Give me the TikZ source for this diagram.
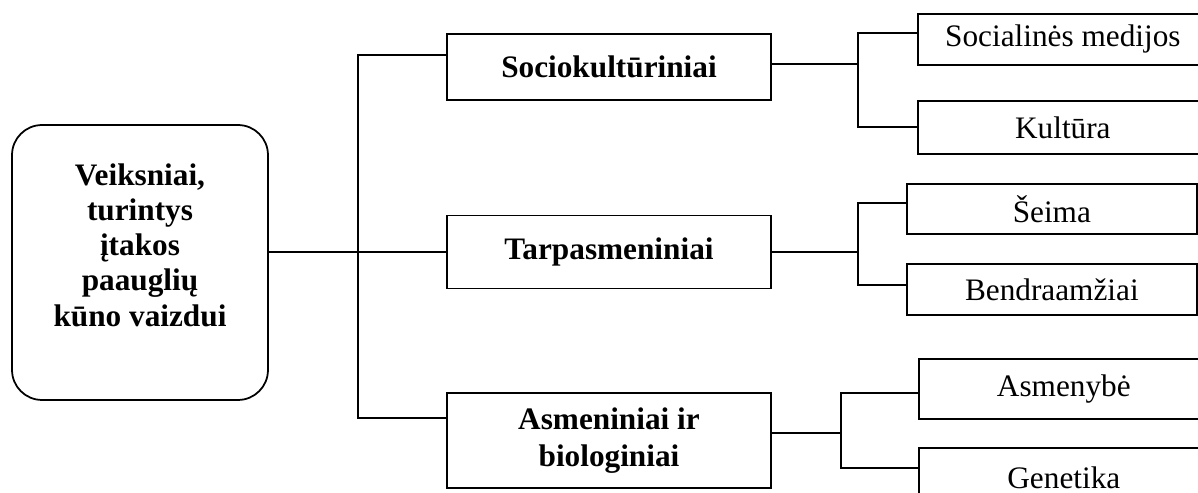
\documentclass[tikz,border=0pt]{standalone}
\usepackage{fontspec}
\setmainfont{Liberation Serif}

\begin{document}
\begin{tikzpicture}[x=0.02cm, y=-0.02cm, line width=1pt,
  every node/.style={font=\fontsize{17.8}{20}\selectfont},
  mainbox/.style={draw, rounded corners=0.6cm, minimum width=5.12cm, minimum height=5.5cm, align=center, font=\fontsize{17.8}{20}\selectfont\bfseries},
  catbox/.style={draw, minimum width=6.48cm, align=center, font=\fontsize{17.8}{21}\selectfont\bfseries},
  subbox/.style={draw, minimum width=5.8cm, anchor=north west},]

\clip[use as bounding box] (0,0) rectangle (1198,493); % page

\node[mainbox] (main) at (140,262.5) {Veiksniai,\\turintys\\įtakos\\paauglių\\kūno vaizdui\\\mbox{}};

% groups
\node[catbox, minimum height=1.32cm] (socio) at (609,67) {Sociokultūriniai};
\node[catbox, minimum height=1.46cm] (tarp) at (609,252) {Tarpasmeniniai};
\node[catbox, minimum height=1.9cm] (asm) at (609,440.5) {Asmeniniai ir\\biologiniai};

% factors
\foreach \name/\x/\y/\h/\txt in {smed/917/13/51/Socialinės medijos, kult/917/100/53/Kultūra,
  seima/906/183/50/Šeima, bendr/906/263/51/Bendraamžiai,
  asmen/918/358/60/Asmenybė, genet/918/447/60/Genetika} {
\node[subbox, minimum height=\h*0.02cm] (\name) at (\x,\y) {\txt};
}

% main trunk
\coordinate (t1) at (358,55);
\coordinate (t3) at (358,418);
\draw (main.east |- tarp.west) -- (tarp.west);
\draw (socio.west |- t1) -- (t1) -- (t3) -- (asm.west |- t3);

% sociokulturiniai
\coordinate (s0) at (858,64);
\coordinate (s1) at (858,33);
\coordinate (s2) at (858,127);
\draw (socio.east |- s0) -- (s0);
\draw (smed.west |- s1) -- (s1) -- (s2) -- (kult.west |- s2);

% tarpasmeniniai
\coordinate (p1) at (858,203);
\coordinate (p2) at (858,285);
\draw (tarp.east) -- (tarp.east -| p1);
\draw (seima.west |- p1) -- (p1) -- (p2) -- (bendr.west |- p2);

% asmeniniai
\coordinate (a0) at (841,433);
\coordinate (a1) at (841,393);
\coordinate (a2) at (841,468);
\draw (asm.east |- a0) -- (a0);
\draw (asmen.west |- a1) -- (a1) -- (a2) -- (genet.west |- a2);

\end{tikzpicture}
\end{document}
